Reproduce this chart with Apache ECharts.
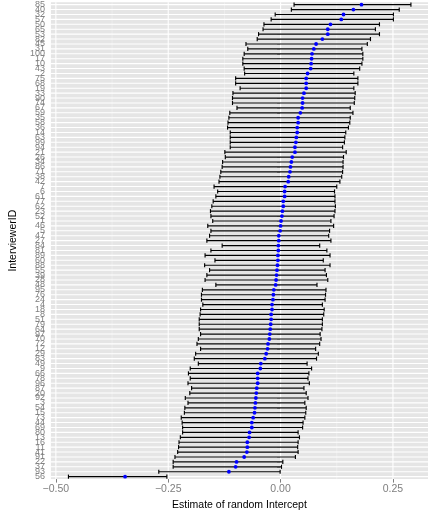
<!DOCTYPE html>
<html><head><meta charset="utf-8">
<script src="https://cdn.jsdelivr.net/npm/echarts@6/dist/echarts.min.js"></script>
<style>html,body{margin:0;padding:0;background:#fff}#c{width:432px;height:516px}</style>
</head><body><div id="c"></div>
<script>
// Interviewer IDs, top to bottom
const ids = ["85","40","32","57","50","65","53","82","45","31","100","17","10","43","2","75","68","19","33","90","74","67","59","35","58","36","14","63","99","94","21","26","34","86","71","38","42","7","6","61","77","62","23","52","1","46","5","47","27",
"84","81","89","60","88","55","39","28","48","95","76","24","4","18","8","51","79","64","97","70","72","12","29","83",
"49","9","66","78","96","87","20","92","3","54","15","73","44","69","80","13","16","11","41","91","22","37","93","56"];

const est = [0.180,0.162,0.140,0.135,0.111,0.105,0.105,0.093,0.079,0.074,
0.070,0.069,0.068,0.067,0.060,0.057,0.057,0.057,0.052,0.049,
0.049,0.048,0.044,0.039,0.039,0.037,0.037,0.035,0.034,0.032,
0.032,0.026,0.024,0.022,0.021,0.018,0.017,0.010,0.009,0.009,
0.006,0.006,0.004,0.003,0.001,0.000,-0.001,-0.004,-0.004,-0.005,
-0.005,-0.006,-0.006,-0.007,-0.008,-0.009,-0.010,-0.011,-0.015,-0.016,
-0.017,-0.019,-0.019,-0.021,-0.021,-0.022,-0.023,-0.024,-0.025,-0.028,
-0.029,-0.032,-0.035,-0.044,-0.045,-0.051,-0.051,-0.051,-0.053,-0.054,
-0.055,-0.056,-0.057,-0.058,-0.061,-0.064,-0.064,-0.069,-0.070,-0.074,
-0.074,-0.075,-0.081,-0.098,-0.100,-0.115,-0.346];

const lower = [0.030,0.024,-0.012,-0.021,-0.037,-0.039,-0.049,-0.052,-0.077,-0.073,
-0.081,-0.084,-0.084,-0.081,-0.080,-0.100,-0.100,-0.090,-0.106,-0.107,
-0.107,-0.097,-0.113,-0.115,-0.117,-0.118,-0.112,-0.112,-0.112,-0.112,
-0.124,-0.123,-0.129,-0.130,-0.133,-0.135,-0.137,-0.148,-0.140,-0.144,
-0.150,-0.153,-0.156,-0.155,-0.151,-0.162,-0.155,-0.158,-0.164,-0.130,
-0.155,-0.168,-0.146,-0.169,-0.158,-0.164,-0.168,-0.144,-0.174,-0.176,
-0.176,-0.173,-0.178,-0.179,-0.181,-0.181,-0.181,-0.178,-0.183,-0.186,
-0.178,-0.189,-0.192,-0.183,-0.201,-0.205,-0.201,-0.206,-0.198,-0.202,
-0.212,-0.206,-0.213,-0.214,-0.221,-0.219,-0.218,-0.218,-0.223,-0.226,
-0.227,-0.229,-0.235,-0.239,-0.239,-0.271,-0.472];

const upper = [0.290,0.264,0.251,0.251,0.220,0.211,0.220,0.200,0.193,0.181,
0.183,0.183,0.181,0.176,0.163,0.172,0.172,0.163,0.166,0.165,
0.164,0.155,0.161,0.155,0.154,0.151,0.145,0.143,0.142,0.138,
0.146,0.140,0.139,0.139,0.138,0.136,0.132,0.125,0.120,0.121,
0.121,0.122,0.121,0.119,0.112,0.118,0.109,0.107,0.112,0.087,
0.103,0.110,0.095,0.110,0.099,0.102,0.105,0.081,0.101,0.100,
0.099,0.093,0.097,0.096,0.093,0.093,0.092,0.088,0.090,0.087,
0.078,0.084,0.080,0.059,0.069,0.063,0.061,0.064,0.052,0.057,
0.061,0.054,0.057,0.056,0.054,0.050,0.049,0.039,0.042,0.039,
0.038,0.039,0.033,0.005,0.002,-0.001,-0.253];

const majorTicks = [-0.5, -0.25, 0, 0.25];
const minorTicks = [-0.375, -0.125, 0.125];

const FONT = 'Liberation Sans';
const chart = echarts.init(document.getElementById('c'), null, {renderer: 'canvas'});

function fmt(v) {
  const s = Math.abs(v).toFixed(2);
  return v < 0 ? '\u2212' + s : s;
}

function vLine(color, width) {
  return function (params, api) {
    const cs = params.coordSys;
    const x = api.coord([api.value(0), 0])[0];
    return {type: 'line', shape: {x1: x, y1: cs.y, x2: x, y2: cs.y + cs.height},
            style: {stroke: color, lineWidth: width}, silent: true};
  };
}

const option = {
  animation: false,
  backgroundColor: '#ffffff',
  textStyle: {fontFamily: FONT},
  grid: {left: 37.5, right: 4, top: 2.2, bottom: 29.5, show: true,
         backgroundColor: '#E5E5E5', borderWidth: 0, containLabel: false},
  xAxis: {
    type: 'value', min: -0.511, max: 0.328,
    name: 'Estimate of random Intercept', nameLocation: 'middle', nameGap: 18,
    nameTextStyle: {color: '#000', fontSize: 10.5, fontFamily: FONT},
    axisLine: {show: false},
    axisTick: {show: true, customValues: majorTicks, length: 3.5, lineStyle: {color: '#7F7F7F', width: 1}},
    axisLabel: {customValues: majorTicks, color: '#7F7F7F', fontSize: 10.5, margin: 5,
                fontFamily: FONT, formatter: fmt},
    splitLine: {show: false}
  },
  yAxis: {
    type: 'category', data: ids, inverse: true,
    name: 'InterviewerID', nameLocation: 'middle', nameGap: 26, nameRotate: 90,
    nameTextStyle: {color: '#000', fontSize: 10.5, fontFamily: FONT},
    axisLine: {show: false},
    axisTick: {show: true, alignWithLabel: true, length: 3.5, lineStyle: {color: '#7F7F7F', width: 1}},
    axisLabel: {interval: 0, color: '#7F7F7F', fontSize: 9, margin: 6, fontFamily: FONT, hideOverlap: false},
    splitLine: {show: false}
  },
  series: [
    {
      type: 'custom', z: 1, silent: true,
      data: minorTicks.map(v => [v]),
      encode: {x: 0},
      renderItem: vLine('#F2F2F2', 0.6)
    },
    {
      type: 'custom', z: 2, silent: true,
      data: majorTicks.map(v => [v]),
      encode: {x: 0},
      renderItem: vLine('#FFFFFF', 1.1)
    },
    {
      type: 'custom', z: 2, silent: true,
      data: ids.map((id, i) => [0, i]),
      encode: {x: 0, y: 1},
      renderItem: function (params, api) {
        const cs = params.coordSys;
        const y = api.coord([0, api.value(1)])[1];
        return {type: 'line', shape: {x1: cs.x, y1: y, x2: cs.x + cs.width, y2: y},
                style: {stroke: '#FFFFFF', lineWidth: 1.1}, silent: true};
      }
    },
    {
      type: 'custom', z: 5, silent: true,
      data: ids.map((id, i) => [lower[i], upper[i], i]),
      encode: {x: [0, 1], y: 2},
      renderItem: function (params, api) {
        const p0 = api.coord([api.value(0), api.value(2)]);
        const p1 = api.coord([api.value(1), api.value(2)]);
        const h = api.size([0, 1])[1] * 0.42;
        const st = {stroke: '#000000', lineWidth: 1.15};
        return {type: 'group', children: [
          {type: 'line', shape: {x1: p0[0], y1: p0[1], x2: p1[0], y2: p1[1]}, style: st},
          {type: 'line', shape: {x1: p0[0], y1: p0[1] - h, x2: p0[0], y2: p0[1] + h}, style: st},
          {type: 'line', shape: {x1: p1[0], y1: p1[1] - h, x2: p1[0], y2: p1[1] + h}, style: st}
        ]};
      }
    },
    {
      type: 'scatter', z: 6, silent: true,
      data: est.map((v, i) => [v, i]),
      symbol: 'circle', symbolSize: 3.8,
      itemStyle: {color: '#0000FF', opacity: 1}
    }
  ]
};
chart.setOption(option);
</script></body></html>
